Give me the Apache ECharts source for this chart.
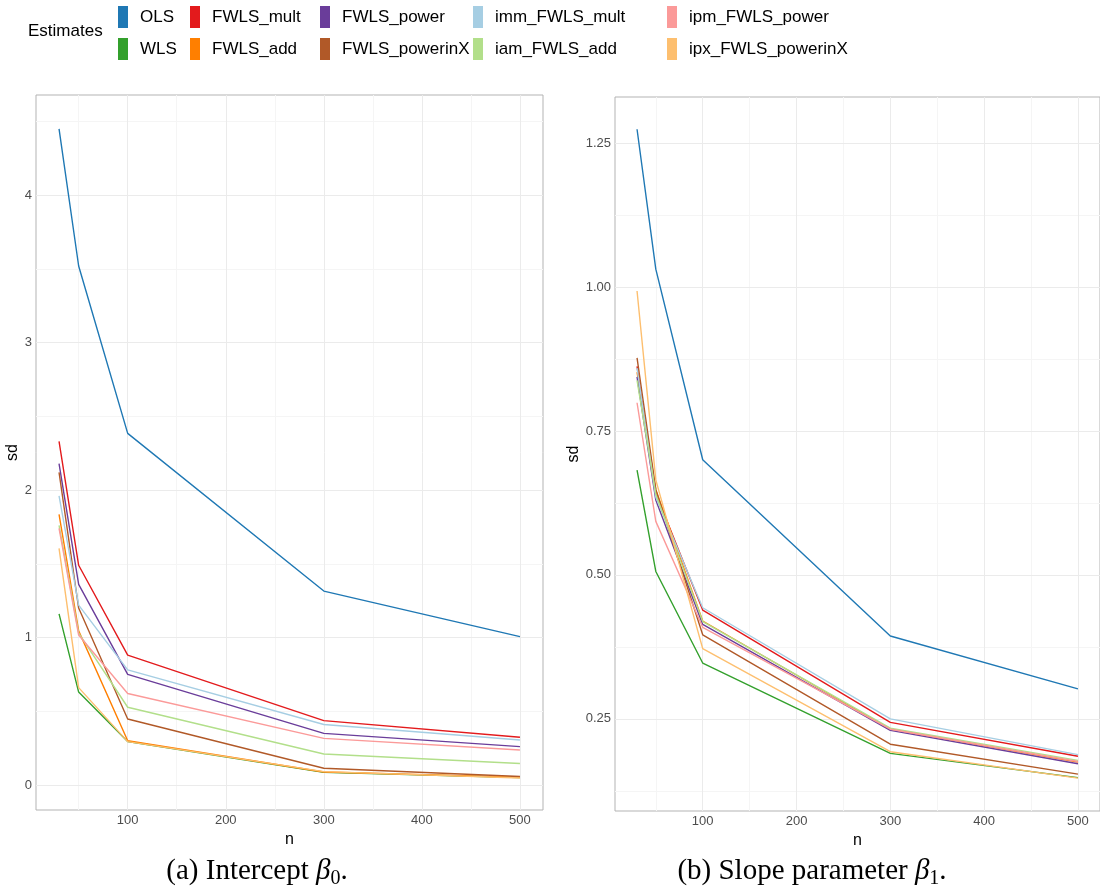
<!DOCTYPE html>
<html>
<head>
<meta charset="utf-8">
<script src="https://cdn.jsdelivr.net/npm/echarts@6/dist/echarts.min.js"></script>
<style>
  html, body { margin: 0; padding: 0; background: #fff; }
  #chart { width: 1100px; height: 894px; }
</style>
</head>
<body>
<div id="chart"></div>
<script>
// sample sizes
const nVals = [30, 50, 100, 300, 500]
const estNames = ['OLS', 'WLS', 'FWLS_mult', 'FWLS_add', 'FWLS_power', 'FWLS_powerinX',
  'imm_FWLS_mult', 'iam_FWLS_add', 'ipm_FWLS_power', 'ipx_FWLS_powerinX']
const estColors = ['#1F78B4', '#33A02C', '#E31A1C', '#FF7F00', '#6A3D9A', '#B15928',
  '#A6CEE3', '#B2DF8A', '#FB9A99', '#FDBF6F']

// sd of intercept estimate (panel a)
const sdB0_OLS = [4.45, 3.52, 2.385, 1.315, 1.006]
const sdB0_WLS = [1.16, 0.63, 0.295, 0.085, 0.05]
const sdB0_FWLS_mult = [2.33, 1.49, 0.88, 0.436, 0.323]
const sdB0_FWLS_add = [1.835, 1.045, 0.30, 0.088, 0.052]
const sdB0_FWLS_power = [2.18, 1.36, 0.75, 0.35, 0.26]
const sdB0_FWLS_powerinX = [2.12, 1.20, 0.447, 0.113, 0.057]
const sdB0_imm = [1.96, 1.22, 0.78, 0.41, 0.305]
const sdB0_iam = [1.76, 1.03, 0.527, 0.21, 0.145]
const sdB0_ipm = [1.74, 1.017, 0.62, 0.316, 0.237]
const sdB0_ipx = [1.605, 0.66, 0.294, 0.09, 0.047]

// sd of slope estimate (panel b)
const sdB1_OLS = [1.274, 1.031, 0.70, 0.394, 0.302]
const sdB1_WLS = [0.682, 0.506, 0.347, 0.19, 0.148]
const sdB1_FWLS_mult = [0.862, 0.642, 0.439, 0.244, 0.185]
const sdB1_FWLS_add = [0.852, 0.648, 0.42, 0.232, 0.175]
const sdB1_FWLS_power = [0.844, 0.63, 0.414, 0.23, 0.172]
const sdB1_FWLS_powerinX = [0.877, 0.648, 0.396, 0.206, 0.154]
const sdB1_imm = [0.859, 0.635, 0.443, 0.25, 0.188]
const sdB1_iam = [0.838, 0.64, 0.419, 0.234, 0.178]
const sdB1_ipm = [0.799, 0.593, 0.409, 0.232, 0.176]
const sdB1_ipx = [0.993, 0.665, 0.372, 0.193, 0.147]

// tick labels
const xTicks = [100, 200, 300, 400, 500]
const xMinor = [50, 150, 250, 350, 450]
const yTicksA = [0, 1, 2, 3, 4]
const yMinorA = [0.5, 1.5, 2.5, 3.5, 4.5]
const yTicksB = [0.25, 0.5, 0.75, 1.0, 1.25]
const yMinorB = [0.125, 0.375, 0.625, 0.875, 1.125]

const panelA = [sdB0_OLS, sdB0_WLS, sdB0_FWLS_mult, sdB0_FWLS_add, sdB0_FWLS_power,
  sdB0_FWLS_powerinX, sdB0_imm, sdB0_iam, sdB0_ipm, sdB0_ipx]
const panelB = [sdB1_OLS, sdB1_WLS, sdB1_FWLS_mult, sdB1_FWLS_add, sdB1_FWLS_power,
  sdB1_FWLS_powerinX, sdB1_imm, sdB1_iam, sdB1_ipm, sdB1_ipx]

const sans = 'Liberation Sans'
const serif = 'Liberation Serif'
const gridMajor = '#ebebeb'
const gridMinor = '#f5f5f5'

function xAxisPair(gi) {
  return [{
    type: 'value', gridIndex: gi, min: 6.5, max: 523.5,
    name: 'n', nameLocation: 'middle', nameGap: 20,
    nameTextStyle: { fontFamily: sans, fontSize: 16, color: '#000' },
    axisLine: { show: false },
    axisTick: { show: false, customValues: xTicks },
    axisLabel: { customValues: xTicks, fontFamily: sans, fontSize: 13, color: '#4d4d4d', margin: 4 },
    splitLine: { show: true, lineStyle: { color: gridMajor, width: 1 } },
    z: 3
  }, {
    type: 'value', gridIndex: gi, min: 6.5, max: 523.5,
    axisLine: { show: false },
    axisTick: { show: false, customValues: xMinor },
    axisLabel: { show: false, customValues: xMinor },
    splitLine: { show: true, lineStyle: { color: gridMinor, width: 1 } },
    z: 2
  }]
}

function yAxisPair(gi, min, max, ticks, minor, fmt, gap) {
  return [{
    type: 'value', gridIndex: gi, min: min, max: max,
    name: 'sd', nameLocation: 'middle', nameGap: gap,
    nameTextStyle: { fontFamily: sans, fontSize: 16, color: '#000' },
    axisLine: { show: false },
    axisTick: { show: false, customValues: ticks },
    axisLabel: { customValues: ticks, formatter: fmt, fontFamily: sans, fontSize: 13, color: '#4d4d4d', margin: 4 },
    splitLine: { show: true, lineStyle: { color: gridMajor, width: 1 } },
    z: 3
  }, {
    type: 'value', gridIndex: gi, min: min, max: max,
    axisLine: { show: false },
    axisTick: { show: false, customValues: minor },
    axisLabel: { show: false, customValues: minor },
    splitLine: { show: true, lineStyle: { color: gridMinor, width: 1 } },
    z: 2
  }]
}

let series = []
panelA.forEach((vals, i) => {
  series.push({
    name: estNames[i], type: 'line', xAxisIndex: 0, yAxisIndex: 0,
    data: nVals.map((n, k) => [n, vals[k]]),
    showSymbol: false, lineStyle: { width: 1.4, color: estColors[i] },
    itemStyle: { color: estColors[i] }, z: 10 + i, silent: true
  })
})
panelB.forEach((vals, i) => {
  series.push({
    name: estNames[i], type: 'line', xAxisIndex: 2, yAxisIndex: 2,
    data: nVals.map((n, k) => [n, vals[k]]),
    showSymbol: false, lineStyle: { width: 1.4, color: estColors[i] },
    itemStyle: { color: estColors[i] }, z: 10 + i, silent: true
  })
})

const legendCols = [
  { left: 118, names: ['OLS', 'WLS'] },
  { left: 190, names: ['FWLS_mult', 'FWLS_add'] },
  { left: 320, names: ['FWLS_power', 'FWLS_powerinX'] },
  { left: 473, names: ['imm_FWLS_mult', 'iam_FWLS_add'] },
  { left: 667, names: ['ipm_FWLS_power', 'ipx_FWLS_powerinX'] }
]

const option = {
  animation: false,
  color: estColors,
  legend: legendCols.map(c => ({
    left: c.left, top: 6, orient: 'vertical', icon: 'rect',
    itemWidth: 10, itemHeight: 22, itemGap: 10, padding: 0,
    selectedMode: false, data: c.names,
    textStyle: { fontFamily: sans, fontSize: 17, color: '#000', padding: [0, 0, 0, 7] }
  })),
  grid: [
    { left: 36, top: 95, width: 507, height: 715, show: true, borderColor: '#b3b3b3', borderWidth: 1, backgroundColor: 'transparent' },
    { left: 615, top: 97, width: 485, height: 714, show: true, borderColor: '#b3b3b3', borderWidth: 1, backgroundColor: 'transparent' }
  ],
  xAxis: [...xAxisPair(0), ...xAxisPair(1)],
  yAxis: [
    ...yAxisPair(0, -0.17, 4.68, yTicksA, yMinorA, v => String(v), 8),
    ...yAxisPair(1, 0.09, 1.33, yTicksB, yMinorB, v => v.toFixed(2), 26)
  ],
  series: series,
  graphic: [
    { type: 'text', left: 28, top: 23, style: { text: 'Estimates', fontFamily: sans, fontSize: 17, fill: '#000' } },
    { type: 'text', x: 257, y: 871, style: {
      text: '(a) Intercept {b|β}{s|0}.', align: 'center', verticalAlign: 'middle',
      fontFamily: serif, fontSize: 29, fill: '#000',
      rich: { b: { fontFamily: serif, fontSize: 29, fontStyle: 'italic' }, s: { fontFamily: serif, fontSize: 20, padding: [16, 0, 0, 0] } }
    } },
    { type: 'text', x: 812, y: 871, style: {
      text: '(b) Slope parameter {b|β}{s|1}.', align: 'center', verticalAlign: 'middle',
      fontFamily: serif, fontSize: 29, fill: '#000',
      rich: { b: { fontFamily: serif, fontSize: 29, fontStyle: 'italic' }, s: { fontFamily: serif, fontSize: 20, padding: [16, 0, 0, 0] } }
    } }
  ]
}

const chart = echarts.init(document.getElementById('chart'))
chart.setOption(option)
</script>
</body>
</html>
